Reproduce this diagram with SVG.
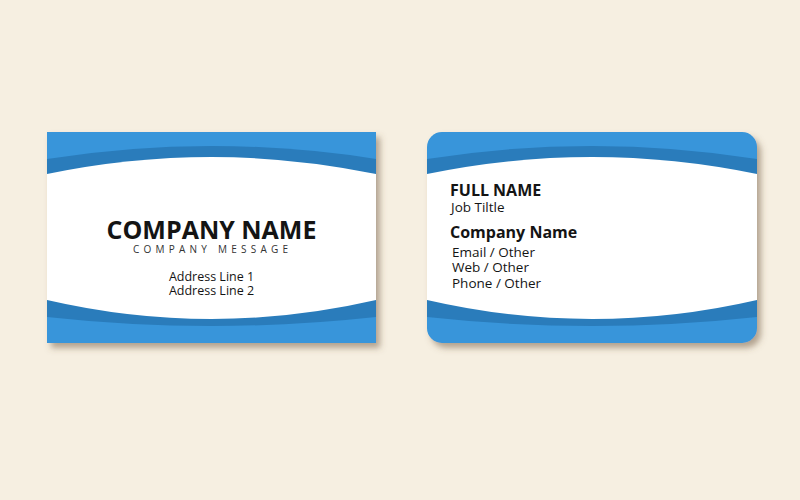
<svg xmlns="http://www.w3.org/2000/svg" width="800" height="500" viewBox="0 0 800 500">
  <style>
    .t { font-family: "Open Sans", "Noto Sans", "Liberation Sans", sans-serif; fill: #141414; }
    .b { font-weight: bold; }
    .light { fill: #3795da; }
    .dark { fill: #2a7cbb; }
    .white { fill: #ffffff; }
  </style>
  <defs>
    <filter id="shadow" x="-10%" y="-10%" width="125%" height="130%">
      <feDropShadow dx="4" dy="5" stdDeviation="3" flood-color="#6e573a" flood-opacity="0.5"/>
    </filter>
    <path id="darkBand" d="M0,27 Q165,1 330,27 L330,185 Q165,203 0,185 Z"/>
    <path id="whiteBand" d="M0,42 Q165,8 330,42 L330,168 Q165,206 0,168 Z"/>
    <clipPath id="roundClip">
      <rect x="0" y="0" width="330" height="211" rx="15" ry="15"/>
    </clipPath>
  </defs>
  <rect x="0" y="0" width="800" height="500" fill="#f6efe1"/>

  <g id="card-front" transform="translate(47,132)">
    <rect class="light" x="0" y="0" width="329" height="211" filter="url(#shadow)"/>
    <g transform="scale(0.997,1)">
      <use href="#darkBand" class="dark"/>
      <use href="#whiteBand" class="white"/>
    </g>
    <text class="t b" x="164.5" y="107" font-size="25" text-anchor="middle">COMPANY NAME</text>
    <text class="t" x="86" y="121" font-size="10" textLength="155" lengthAdjust="spacing" fill="#333333" style="fill:#333333">COMPANY MESSAGE</text>
    <text class="t" x="164.5" y="149" font-size="12.5" text-anchor="middle">Address Line 1</text>
    <text class="t" x="164.5" y="163" font-size="12.5" text-anchor="middle">Address Line 2</text>
  </g>

  <g id="card-back" transform="translate(427,132)">
    <rect class="light" x="0" y="0" width="330" height="211" rx="15" ry="15" filter="url(#shadow)"/>
    <g clip-path="url(#roundClip)">
      <use href="#darkBand" class="dark"/>
      <use href="#whiteBand" class="white"/>
    </g>
    <text class="t b" x="23" y="64" font-size="16">FULL NAME</text>
    <text class="t" x="24" y="80" font-size="13.5">Job Tiltle</text>
    <text class="t b" x="23" y="106" font-size="16">Company Name</text>
    <text class="t" x="25" y="125" font-size="13.5">Email / Other</text>
    <text class="t" x="25" y="140" font-size="13.5">Web / Other</text>
    <text class="t" x="25" y="156" font-size="13.5">Phone / Other</text>
  </g>
</svg>
